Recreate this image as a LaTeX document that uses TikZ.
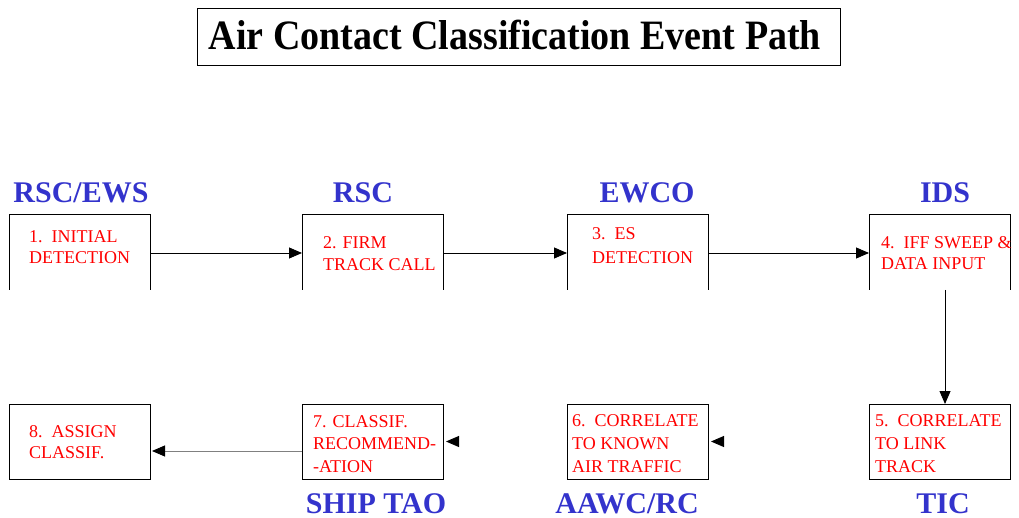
\documentclass[tikz,border=0pt]{standalone}
\usepackage{fontspec}
\setmainfont{Liberation Serif}
\usetikzlibrary{arrows.meta}
\definecolor{lblblue}{RGB}{51,51,204}
\definecolor{stepred}{RGB}{255,0,0}
\begin{document}
\begin{tikzpicture}[x=1pt,y=-1pt,
  box/.style={draw=none,minimum width=141pt,inner sep=0pt,outer sep=0pt},
  topbox/.style={box,minimum height=76pt},
  botbox/.style={box,minimum height=75pt},
  steptext/.style={anchor=base west,inner sep=0pt,align=left,text=stepred},
  role/.style={anchor=base,inner sep=0pt,text=lblblue,font=\fontsize{30}{30}\bfseries\selectfont},
  flow/.style={draw=black,line width=0.9pt,-{Triangle[length=13pt,width=11pt]}},
  ghost/.style={draw=white,line width=0.9pt,-{Triangle[length=13pt,width=11pt,black]},shorten >=3pt},
  frame/.style={draw=black,line width=0.9pt}]
\useasboundingbox (0,0) rectangle (1019,518);
% title
\node[draw=black,line width=0.8pt,minimum width=643pt,minimum height=57pt,inner sep=0pt] (title) at (518.5,36.5) {};
\node[anchor=base,inner sep=0pt,font=\fontsize{38}{38}\bfseries\selectfont,yscale=1.1] (titletext) at (515,50) {Air Contact Classification Event Path};
% top boxes (open at bottom)
\node[topbox] (b1) at (79.5,252) {};
\node[topbox] (b2) at (372.5,252) {};
\node[topbox] (b3) at (637.5,252) {};
\node[topbox] (b4) at (939.5,252) {};
\foreach \b in {b1,b2,b3,b4}{
  \draw[frame] (\b.south west) -- (\b.north west) -- (\b.north east) -- (\b.south east);
}
% bottom boxes
\node[botbox,frame] (b5) at (939.5,441.5) {};
\node[botbox,frame] (b6) at (637.5,441.5) {};
\node[botbox,frame] (b7) at (372.5,441.5) {};
\node[botbox,frame] (b8) at (79.5,441.5) {};
% step texts (anchor = baseline of last line)
\node[steptext,font=\fontsize{18}{21}\selectfont] (t1) at (29,264) {1.\ \ INITIAL\\DETECTION};
\node[steptext,font=\fontsize{18}{22}\selectfont] (t2) at (323,271) {2. FIRM\\TRACK CALL};
\node[steptext,font=\fontsize{18}{24}\selectfont] (t3) at (592,264) {3.\ \ ES\\DETECTION};
\node[steptext,font=\fontsize{18}{21}\selectfont] (t4) at (881,270) {4.\ \ IFF SWEEP \&\\DATA INPUT};
\node[steptext,font=\fontsize{18}{23}\selectfont] (t5) at (875,472) {5.\ \ CORRELATE\\TO LINK\\TRACK};
\node[steptext,font=\fontsize{18}{23}\selectfont] (t6) at (572,472) {6.\ \ CORRELATE\\TO KNOWN\\AIR TRAFFIC};
\node[steptext,font=\fontsize{18}{22.5}\selectfont] (t7) at (313,472) {7. CLASSIF.\\RECOMMEND-\\-ATION};
\node[steptext,font=\fontsize{18}{21}\selectfont] (t8) at (29,458) {8.\ \ ASSIGN\\CLASSIF.};
% role labels
\node[role] (r1) at (81,203) {RSC/EWS};
\node[role] (r2) at (363,203) {RSC};
\node[role] (r3) at (647,203) {EWCO};
\node[role] (r4) at (945,203) {IDS};
\node[role] (r5) at (943,513) {TIC};
\node[role] (r6) at (627,513) {AAWC/RC};
\node[role] (r7) at (376,513) {SHIP TAO};
% connectors
\draw[flow] (b1.east |- 0,253) -- (b2.west |- 0,253);
\draw[flow] (b2.east |- 0,253) -- (b3.west |- 0,253);
\draw[flow] (b3.east |- 0,253) -- (b4.west |- 0,253);
\draw[flow] (b4.south -| 945,0) -- (b5.north -| 945,0);
\draw[ghost] (b5.west) -- (b6.east);
\draw[ghost] (b6.west) -- (b7.east);
\draw[flow,draw=gray,-{Triangle[length=13pt,width=11pt,black]},shorten >=2pt] (b7.west |- 0,451) -- (b8.east |- 0,451);
\end{tikzpicture}
\end{document}
